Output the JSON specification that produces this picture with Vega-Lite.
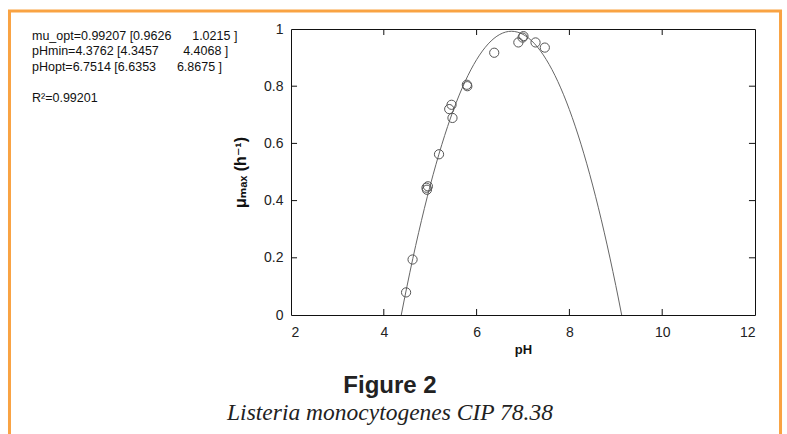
{
  "$schema": "https://vega.github.io/schema/vega-lite/v6.json",
  "width": 464,
  "height": 286,
  "autosize": {"type": "none"},
  "padding": {"left": 291, "top": 29, "right": 32, "bottom": 119},
  "background": "white",
  "config": {
    "view": {"stroke": "#111", "strokeWidth": 1},
    "font": "Liberation Sans",
    "axis": {
      "domain": false,
      "ticks": false,
      "grid": false,
      "labelFont": "Liberation Sans",
      "labelFontSize": 14,
      "labelColor": "#222",
      "titleFont": "Liberation Sans, DejaVu Sans",
      "titleFontWeight": "bold",
      "titleFontSize": 13,
      "titleColor": "#111"
    }
  },
  "datasets": {
    "observed": [
      {"pH": 4.48, "mu": 0.079},
      {"pH": 4.62, "mu": 0.194},
      {"pH": 4.92, "mu": 0.445},
      {"pH": 4.95, "mu": 0.45},
      {"pH": 4.93, "mu": 0.438},
      {"pH": 5.19, "mu": 0.562},
      {"pH": 5.41, "mu": 0.72},
      {"pH": 5.46, "mu": 0.735},
      {"pH": 5.48, "mu": 0.689},
      {"pH": 5.79, "mu": 0.805},
      {"pH": 5.8, "mu": 0.8},
      {"pH": 6.38, "mu": 0.917},
      {"pH": 6.9, "mu": 0.953},
      {"pH": 6.99, "mu": 0.97},
      {"pH": 7.01, "mu": 0.975},
      {"pH": 7.27, "mu": 0.953},
      {"pH": 7.47, "mu": 0.935}
    ],
    "model": [
      {"pH": 4.3762, "mu": 0},
      {"pH": 4.45, "mu": 0.0607},
      {"pH": 4.5, "mu": 0.1007},
      {"pH": 4.625, "mu": 0.197},
      {"pH": 4.75, "mu": 0.2877},
      {"pH": 5.0, "mu": 0.4527},
      {"pH": 5.25, "mu": 0.5957},
      {"pH": 5.5, "mu": 0.7167},
      {"pH": 5.75, "mu": 0.8157},
      {"pH": 6.0, "mu": 0.8928},
      {"pH": 6.25, "mu": 0.9479},
      {"pH": 6.5, "mu": 0.981},
      {"pH": 6.75, "mu": 0.9921},
      {"pH": 7.0, "mu": 0.9812},
      {"pH": 7.25, "mu": 0.9484},
      {"pH": 7.5, "mu": 0.8935},
      {"pH": 7.75, "mu": 0.8167},
      {"pH": 8.0, "mu": 0.7179},
      {"pH": 8.25, "mu": 0.5972},
      {"pH": 8.5, "mu": 0.4544},
      {"pH": 8.75, "mu": 0.2897},
      {"pH": 8.875, "mu": 0.199},
      {"pH": 9.0, "mu": 0.1029},
      {"pH": 9.05, "mu": 0.063},
      {"pH": 9.1266, "mu": 0}
    ],
    "xticks": [{"pH": 4}, {"pH": 6}, {"pH": 8}, {"pH": 10}],
    "yticks": [{"mu": 0.2}, {"mu": 0.4}, {"mu": 0.6}, {"mu": 0.8}]
  },
  "resolve": {"axis": {"x": "independent", "y": "independent"}},
  "layer": [
    {
      "data": {"values": [{}]},
      "mark": {"type": "rect", "fill": null, "stroke": "#F9A343", "strokeWidth": 3, "clip": false},
      "encoding": {
        "x": {"datum": -4.067, "type": "quantitative", "scale": {"domain": [2, 12], "nice": false, "zero": false}, "axis": null},
        "x2": {"datum": 12.55},
        "y": {"datum": 1.063, "type": "quantitative", "scale": {"domain": [0, 1], "nice": false, "zero": false}, "axis": null},
        "y2": {"datum": -0.6}
      }
    },
    {
      "data": {"name": "xticks"},
      "mark": {"type": "rule", "color": "#111", "strokeWidth": 1},
      "encoding": {
        "x": {"field": "pH", "type": "quantitative", "axis": null},
        "y": {"datum": 0, "type": "quantitative", "axis": null},
        "y2": {"datum": 0.021}
      }
    },
    {
      "data": {"name": "xticks"},
      "mark": {"type": "rule", "color": "#111", "strokeWidth": 1},
      "encoding": {
        "x": {"field": "pH", "type": "quantitative", "axis": null},
        "y": {"datum": 1, "type": "quantitative", "axis": null},
        "y2": {"datum": 0.979}
      }
    },
    {
      "data": {"name": "yticks"},
      "mark": {"type": "rule", "color": "#111", "strokeWidth": 1},
      "encoding": {
        "y": {"field": "mu", "type": "quantitative", "axis": null},
        "x": {"datum": 2, "type": "quantitative", "axis": null},
        "x2": {"datum": 2.13}
      }
    },
    {
      "data": {"name": "yticks"},
      "mark": {"type": "rule", "color": "#111", "strokeWidth": 1},
      "encoding": {
        "y": {"field": "mu", "type": "quantitative", "axis": null},
        "x": {"datum": 12, "type": "quantitative", "axis": null},
        "x2": {"datum": 11.87}
      }
    },
    {
      "data": {"values": [{}]},
      "mark": {
        "type": "text",
        "align": "left",
        "baseline": "alphabetic",
        "font": "Liberation Sans",
        "fontSize": 12.5,
        "lineHeight": 15.5,
        "color": "#111",
        "clip": false,
        "text": [
          "mu_opt=0.99207 [0.9626\u00a0\u00a0\u00a0\u00a0\u00a0\u00a01.0215 ]",
          "pHmin=4.3762 [4.3457\u00a0\u00a0\u00a0\u00a0\u00a0\u00a0\u00a04.4068 ]",
          "pHopt=6.7514 [6.6353\u00a0\u00a0\u00a0\u00a0\u00a0\u00a06.8675 ]"
        ]
      },
      "encoding": {
        "x": {"datum": -3.582, "type": "quantitative", "axis": null},
        "y": {"datum": 0.963, "type": "quantitative", "axis": null}
      }
    },
    {
      "data": {"values": [{}]},
      "mark": {"type": "text", "align": "left", "baseline": "alphabetic", "font": "Liberation Sans", "fontSize": 12.5, "color": "#111", "clip": false, "text": "R\u00b2=0.99201"},
      "encoding": {
        "x": {"datum": -3.582, "type": "quantitative", "axis": null},
        "y": {"datum": 0.745, "type": "quantitative", "axis": null}
      }
    },
    {
      "data": {"values": [{}]},
      "mark": {"type": "text", "align": "center", "baseline": "alphabetic", "font": "Liberation Sans", "fontSize": 24, "fontWeight": "bold", "color": "#222", "clip": false, "text": "Figure 2"},
      "encoding": {
        "x": {"datum": 4.134, "type": "quantitative", "axis": null},
        "y": {"datum": -0.2727, "type": "quantitative", "axis": null}
      }
    },
    {
      "data": {"values": [{}]},
      "mark": {"type": "text", "align": "center", "baseline": "alphabetic", "font": "Liberation Serif", "fontSize": 23.5, "fontStyle": "italic", "color": "#222", "clip": false, "text": "Listeria monocytogenes CIP 78.38"},
      "encoding": {
        "x": {"datum": 4.134, "type": "quantitative", "axis": null},
        "y": {"datum": -0.367, "type": "quantitative", "axis": null}
      }
    },
    {
      "data": {"name": "model"},
      "mark": {"type": "line", "color": "#666", "strokeWidth": 1, "interpolate": "monotone"},
      "encoding": {
        "x": {"field": "pH", "type": "quantitative", "axis": null},
        "y": {"field": "mu", "type": "quantitative", "axis": null}
      }
    },
    {
      "data": {"name": "observed"},
      "mark": {"type": "point", "shape": "circle", "filled": false, "stroke": "#555", "strokeWidth": 1, "size": 85, "opacity": 1},
      "encoding": {
        "x": {"field": "pH", "type": "quantitative", "axis": {"orient": "bottom", "title": "pH", "values": [2, 4, 6, 8, 10, 12], "format": "~g", "labelPadding": 10, "titlePadding": 4}},
        "y": {"field": "mu", "type": "quantitative", "axis": {"orient": "left", "title": "μₘₐₓ (h⁻¹)", "values": [0, 0.2, 0.4, 0.6, 0.8, 1], "format": "~g", "labelPadding": 8, "titlePadding": 15, "titleFontSize": 16}}
      }
    }
  ]
}
